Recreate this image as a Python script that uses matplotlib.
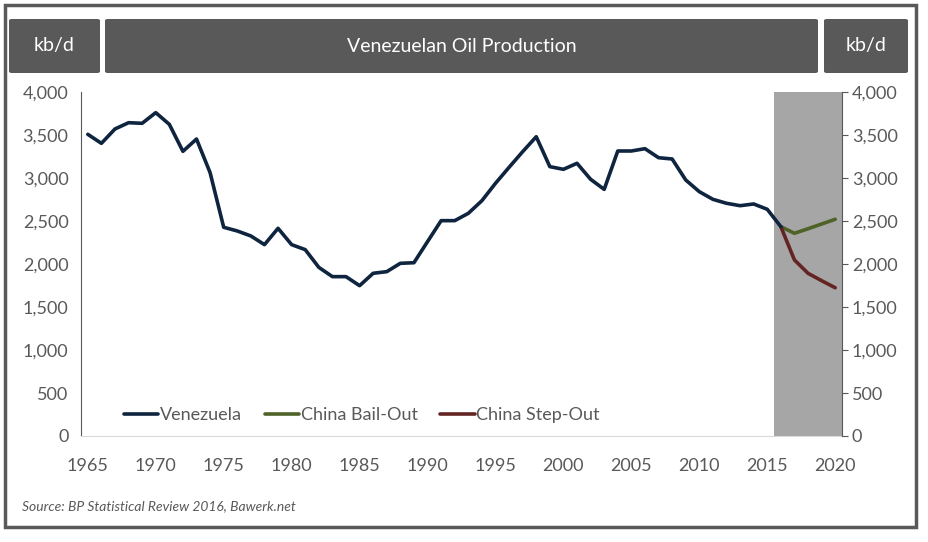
import matplotlib.pyplot as plt
from matplotlib.patches import Rectangle, FancyBboxPatch

# Venezuelan oil production, kb/d (BP Statistical Review 2016), 1965-2016
years = list(range(1965, 2017))
venezuela = [3508, 3403, 3570, 3643, 3636, 3760, 3624, 3310, 3453, 3062,
             2427, 2384, 2326, 2225, 2415, 2225, 2167, 1961, 1853, 1853,
             1748, 1892, 1911, 2008, 2015, 2260, 2504, 2504, 2589, 2736,
             2938, 3124, 3306, 3480, 3132, 3101, 3171, 2985, 2868, 3314,
             3314, 3341, 3236, 3221, 2977, 2841, 2752, 2706, 2678, 2698,
             2636, 2434]

# scenarios 2016-2020
scen_years = [2016, 2017, 2018, 2019, 2020]
bail_out = [2434, 2357, 2410, 2465, 2520]
step_out = [2434, 2047, 1892, 1806, 1724]

forecast_span = (2015.5, 2020.5)
xticks = list(range(1965, 2021, 5))
yticks = list(range(0, 4001, 500))

grey = "#595959"
plt.rcParams["font.family"] = ["Lato", "DejaVu Sans"]

fig = plt.figure(figsize=(9.29, 5.42), dpi=100)

# outer frame
fig.patches.append(Rectangle((5 / 929, 1 - 527 / 542), 911 / 929, 522 / 542,
                             transform=fig.transFigure, fill=False,
                             edgecolor=grey, linewidth=2.5))

# header boxes
def header_box(x0, x1, text):
    y0, y1 = 19, 73
    fig.patches.append(FancyBboxPatch((x0 / 929, 1 - y1 / 542), (x1 - x0) / 929, (y1 - y0) / 542,
                                      boxstyle="round,pad=0,rounding_size=0.003",
                                      transform=fig.transFigure, facecolor=grey,
                                      edgecolor="none"))
    fig.text((x0 + x1) / 2 / 929, 1 - (y0 + y1) / 2 / 542, text, color="white",
             fontsize=14, ha="center", va="center")

header_box(9, 100, "kb/d")
header_box(105, 818, "Venezuelan Oil Production")
header_box(824, 908, "kb/d")

ax = fig.add_axes([81 / 929, 1 - 436 / 542, (842 - 81) / 929, (436 - 92) / 542])

ax.axvspan(*forecast_span, color="#A6A6A6", linewidth=0, zorder=0)
ax.plot(years, venezuela, color="#0F243E", linewidth=2.6, label="Venezuela", zorder=3,
        solid_capstyle="round")
ax.plot(scen_years, bail_out, color="#4F6228", linewidth=2.6, label="China Bail-Out", zorder=2,
        solid_capstyle="round")
ax.plot(scen_years, step_out, color="#632523", linewidth=2.6, label="China Step-Out", zorder=2,
        solid_capstyle="round")

ax.set_xlim(1964.5, 2020.5)
ax.set_ylim(0, 4000)
ax.set_xticks(xticks)
ax.set_yticks(yticks)
ax.set_yticklabels([f"{v:,}" for v in yticks])
ax.tick_params(axis="x", length=0, pad=16, labelsize=13, labelcolor=grey)
ax.tick_params(axis="y", length=0, pad=9, labelsize=13, labelcolor=grey)

ax.spines["top"].set_visible(False)
ax.spines["right"].set_visible(False)
ax.spines["bottom"].set_color("#D9D9D9")
ax.spines["left"].set_color(grey)
ax.spines["left"].set_linewidth(0.8)

ax2 = ax.twinx()
ax2.set_ylim(0, 4000)
ax2.set_yticks(yticks)
ax2.set_yticklabels([f"{v:,}" for v in yticks])
ax2.tick_params(axis="y", length=4, color=grey, pad=3, labelsize=13, labelcolor=grey)
for s in ["top", "left", "bottom"]:
    ax2.spines[s].set_visible(False)
ax2.spines["right"].set_color(grey)
ax2.spines["right"].set_linewidth(0.8)

leg = ax.legend(loc="lower left", bbox_to_anchor=(0.035, -0.01), ncol=3, frameon=False,
                fontsize=13, handlelength=1.9, handletextpad=0.1, columnspacing=1.25,
                labelcolor=grey)

fig.text(22 / 929, 1 - 506 / 542, "Source: BP Statistical Review 2016, Bawerk.net",
         fontsize=10, style="italic", color=grey, va="center")

fig.savefig("out.png", dpi=100)
